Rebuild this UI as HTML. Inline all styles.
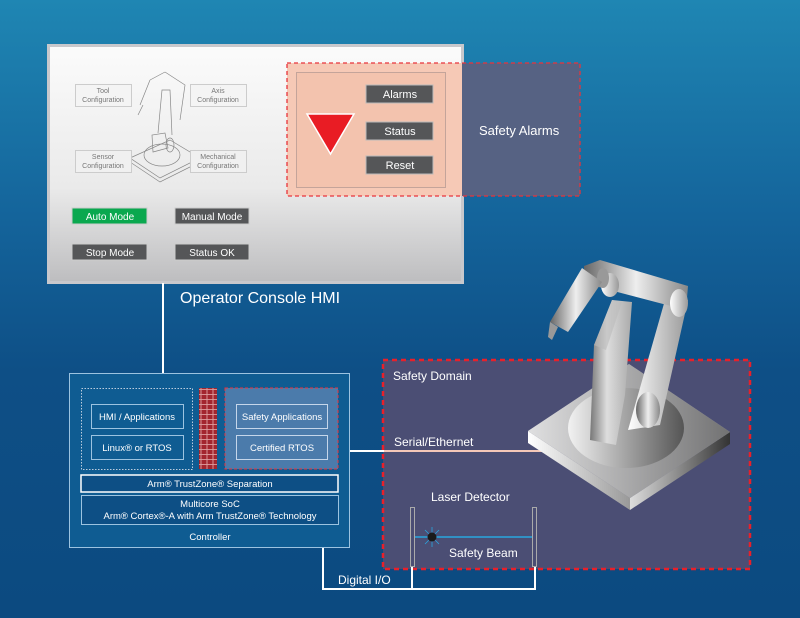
<!DOCTYPE html>
<html><head><meta charset="utf-8"><style>
html,body{margin:0;padding:0;width:800px;height:618px;overflow:hidden;background:#0d4c83}
svg{display:block}
text{font-family:"Liberation Sans",sans-serif;fill:#fff}
</style></head><body>
<svg width="800" height="618" viewBox="0 0 800 618" xmlns="http://www.w3.org/2000/svg">
<defs>
<linearGradient id="bg" x1="0" y1="0" x2="0" y2="1">
<stop offset="0" stop-color="#1f86b3"/><stop offset="0.35" stop-color="#14649b"/><stop offset="0.6" stop-color="#0e4f86"/><stop offset="1" stop-color="#0c4a80"/></linearGradient>
<linearGradient id="hmi" x1="0" y1="0" x2="0" y2="1">
<stop offset="0" stop-color="#fbfbfb"/><stop offset="0.6" stop-color="#eaeaea"/><stop offset="1" stop-color="#bdbdbf"/></linearGradient>
<linearGradient id="g1" x1="0" y1="0" x2="1" y2="0">
<stop offset="0" stop-color="#f2f2f2"/><stop offset="1" stop-color="#555"/></linearGradient>
<linearGradient id="g2" x1="0" y1="0" x2="1" y2="0">
<stop offset="0" stop-color="#666"/><stop offset="0.5" stop-color="#eee"/><stop offset="1" stop-color="#888"/></linearGradient>
<linearGradient id="g3" x1="0" y1="0" x2="1" y2="0">
<stop offset="0" stop-color="#fff"/><stop offset="1" stop-color="#999"/></linearGradient>
<linearGradient id="g4" x1="0" y1="0" x2="1" y2="0">
<stop offset="0" stop-color="#ddd"/><stop offset="1" stop-color="#333"/></linearGradient>
<linearGradient id="g5" x1="0" y1="0" x2="1" y2="0">
<stop offset="0" stop-color="#777"/><stop offset="0.4" stop-color="#ddd"/><stop offset="1" stop-color="#aaa"/></linearGradient>
<pattern id="brick" width="6" height="5" patternUnits="userSpaceOnUse">
<rect width="6" height="5" fill="#a3262e"/><path d="M0 4.5H6M3 0V4.5" stroke="#e8b0b0" stroke-width="0.8"/></pattern>
</defs>
<rect width="800" height="618" fill="url(#bg)"/>

<!-- HMI panel -->
<rect x="48.5" y="45.5" width="414" height="237" fill="url(#hmi)" stroke="#c8c8cc" stroke-width="3"/>
<g fill="none" stroke="#888" stroke-width="0.7">
<path d="M130 158 L170 140 L200 158 L160 178 Z M130 158 L130 162 L160 182 L200 162 L200 158"/>
<ellipse cx="162" cy="155" rx="18" ry="11"/>
<path d="M153 152 L152 135 L165 133 L168 148 Z M158 133 L162 90 L170 90 L172 135 M165 72 L185 85 L180 120 M150 80 L165 72 M150 80 L140 105 M143 105 L138 115"/>
<ellipse cx="170" cy="145" rx="4" ry="7"/>
</g>
<g font-size="7" text-anchor="middle">
<rect x="75.5" y="84.5" width="56" height="22" fill="#f4f4f4" stroke="#ccc"/>
<text x="103" y="93" style="fill:#777">Tool</text><text x="103" y="102" style="fill:#777">Configuration</text>
<rect x="190.5" y="84.5" width="56" height="22" fill="#f4f4f4" stroke="#ccc"/>
<text x="218" y="93" style="fill:#777">Axis</text><text x="218" y="102" style="fill:#777">Configuration</text>
<rect x="75.5" y="150.5" width="56" height="22" fill="#f0f0f0" stroke="#ccc"/>
<text x="103" y="159" style="fill:#777">Sensor</text><text x="103" y="168" style="fill:#777">Configuration</text>
<rect x="190.5" y="150.5" width="56" height="22" fill="#f0f0f0" stroke="#ccc"/>
<text x="218" y="159" style="fill:#777">Mechanical</text><text x="218" y="168" style="fill:#777">Configuration</text>
</g>
<g font-size="10" text-anchor="middle">
<rect x="72" y="208" width="75" height="16" fill="#0aa84f" stroke="#ccc"/><text x="110" y="220">Auto Mode</text>
<rect x="175" y="208" width="74" height="16" fill="#555658" stroke="#ccc"/><text x="212" y="220">Manual Mode</text>
<rect x="72" y="244" width="75" height="16" fill="#555658" stroke="#ccc"/><text x="110" y="256">Stop Mode</text>
<rect x="175" y="244" width="74" height="16" fill="#555658" stroke="#ccc"/><text x="212" y="256">Status OK</text>
</g>

<!-- Safety alarms -->
<rect x="287" y="63" width="175" height="133" fill="#f6c9b6"/>
<rect x="462" y="63" width="118" height="133" fill="#566283"/>
<rect x="287" y="63" width="293" height="133" fill="none" stroke="#e8343c" stroke-width="1.3" stroke-dasharray="4 3"/>
<rect x="296.5" y="72.5" width="149" height="115" fill="#f3c3ae" stroke="#c4a49a"/>
<polygon points="307,114 354,114 330.5,154" fill="#e91c24" stroke="#fff" stroke-width="1.5"/>
<g font-size="11" text-anchor="middle">
<rect x="366" y="85" width="67" height="18" fill="#555658" stroke="#bbb"/><text x="400" y="98">Alarms</text>
<rect x="366" y="122" width="67" height="18" fill="#555658" stroke="#bbb"/><text x="400" y="135">Status</text>
<rect x="366" y="156" width="67" height="18" fill="#555658" stroke="#bbb"/><text x="400" y="169">Reset</text>
</g>
<text x="479" y="135" font-size="13">Safety Alarms</text>

<text x="180" y="303" font-size="16">Operator Console HMI</text>
<line x1="163" y1="283" x2="163" y2="373" stroke="#fff" stroke-width="2"/>

<!-- Safety domain -->
<rect x="383" y="360" width="367" height="209" fill="#4b4e74" stroke="#e8202a" stroke-width="2.5" stroke-dasharray="5 4"/>
<text x="393" y="380" font-size="12">Safety Domain</text>
<text x="394" y="446" font-size="12">Serial/Ethernet</text>
<line x1="349" y1="451" x2="384" y2="451" stroke="#fff" stroke-width="2"/>
<line x1="384" y1="451" x2="545" y2="451" stroke="#f5c8b8" stroke-width="2"/>
<text x="431" y="501" font-size="12">Laser Detector</text>
<text x="449" y="557" font-size="12">Safety Beam</text>
<rect x="410.5" y="507.5" width="4" height="59" fill="none" stroke="#aaa"/>
<rect x="532.5" y="507.5" width="4" height="59" fill="none" stroke="#aaa"/>
<line x1="415" y1="537" x2="532" y2="537" stroke="#29a6df" stroke-width="1.5"/>
<g stroke="#29a6df" stroke-width="0.8"><line x1="422" y1="537" x2="442" y2="537"/><line x1="432" y1="527" x2="432" y2="547"/><line x1="425" y1="530" x2="439" y2="544"/><line x1="439" y1="530" x2="425" y2="544"/></g>
<circle cx="432" cy="537" r="4.5" fill="#1a1a1a"/>
<polyline points="323,547 323,589 535,589 535,567" fill="none" stroke="#fff" stroke-width="2"/>
<line x1="412" y1="567" x2="412" y2="589" stroke="#fff" stroke-width="2"/>
<text x="338" y="584" font-size="12">Digital I/O</text>

<!-- Controller -->
<rect x="69.5" y="373.5" width="280" height="174" fill="#0f5c92" stroke="#9cc3e0"/>
<rect x="81.5" y="388.5" width="111" height="81" fill="none" stroke="#bcd" stroke-dasharray="1.5 1.5"/>
<rect x="199" y="388" width="18" height="81" fill="url(#brick)"/>
<rect x="225" y="388" width="113" height="81" fill="#4b7bab" stroke="#e8343c" stroke-dasharray="3 2"/>
<g font-size="9.5" text-anchor="middle">
<rect x="91.5" y="404.5" width="92" height="24" fill="none" stroke="#9cc3e0"/><text x="137" y="420">HMI / Applications</text>
<rect x="91.5" y="435.5" width="92" height="24" fill="none" stroke="#9cc3e0"/><text x="137" y="451">Linux® or RTOS</text>
<rect x="236.5" y="404.5" width="91" height="24" fill="none" stroke="#c5d6ea"/><text x="282" y="420">Safety Applications</text>
<rect x="236.5" y="435.5" width="91" height="24" fill="none" stroke="#c5d6ea"/><text x="282" y="451">Certified RTOS</text>
<rect x="81" y="475" width="257" height="17" fill="#0d4f85" stroke="#fff" stroke-width="1.5"/><text x="210" y="487">Arm® TrustZone® Separation</text>
<rect x="81.5" y="495.5" width="257" height="29" fill="#0d4f85" stroke="#9cc3e0"/>
<text x="210" y="507">Multicore SoC</text><text x="210" y="519">Arm®  Cortex®-A with Arm TrustZone® Technology</text>
<text x="210" y="540">Controller</text>
</g>

<!-- Robot -->
<polygon points="528,443 630,510 630,498 528,431" fill="url(#g3)"/>
<polygon points="630,510 730,444 730,432 630,498" fill="url(#g4)"/>
<polygon points="528,431 629,364 730,432 630,498" fill="#b5b5b8"/>
<polygon points="528,431 629,364 730,432 630,498" fill="url(#g1)" opacity="0.7"/>
<ellipse cx="626" cy="428" rx="58" ry="40" fill="url(#g1)"/>
<!-- left column -->
<polygon points="590,440 594,345 612,300 632,302 625,395 616,445" fill="url(#g5)"/>
<polygon points="594,345 612,300 622,302 606,350" fill="#bbb" opacity="0.6"/>
<!-- right link -->
<polygon points="628,430 665,300 688,300 660,425" fill="url(#g3)"/>
<ellipse cx="648" cy="410" rx="12" ry="18" fill="url(#g2)"/>
<!-- top bar -->
<polygon points="584,266 600,260 688,286 686,310 602,288 584,282" fill="url(#g2)"/>
<ellipse cx="679" cy="303" rx="9" ry="14" fill="url(#g3)"/>
<ellipse cx="610" cy="285" rx="9" ry="12" fill="url(#g3)"/>
<ellipse cx="603" cy="278" rx="6" ry="10" fill="#999"/>
<!-- forearm -->
<polygon points="582,268 602,282 568,332 550,322" fill="url(#g2)"/>
<polygon points="550,322 558,327 552,340 548,337" fill="#999"/>
</svg>
</body></html>
